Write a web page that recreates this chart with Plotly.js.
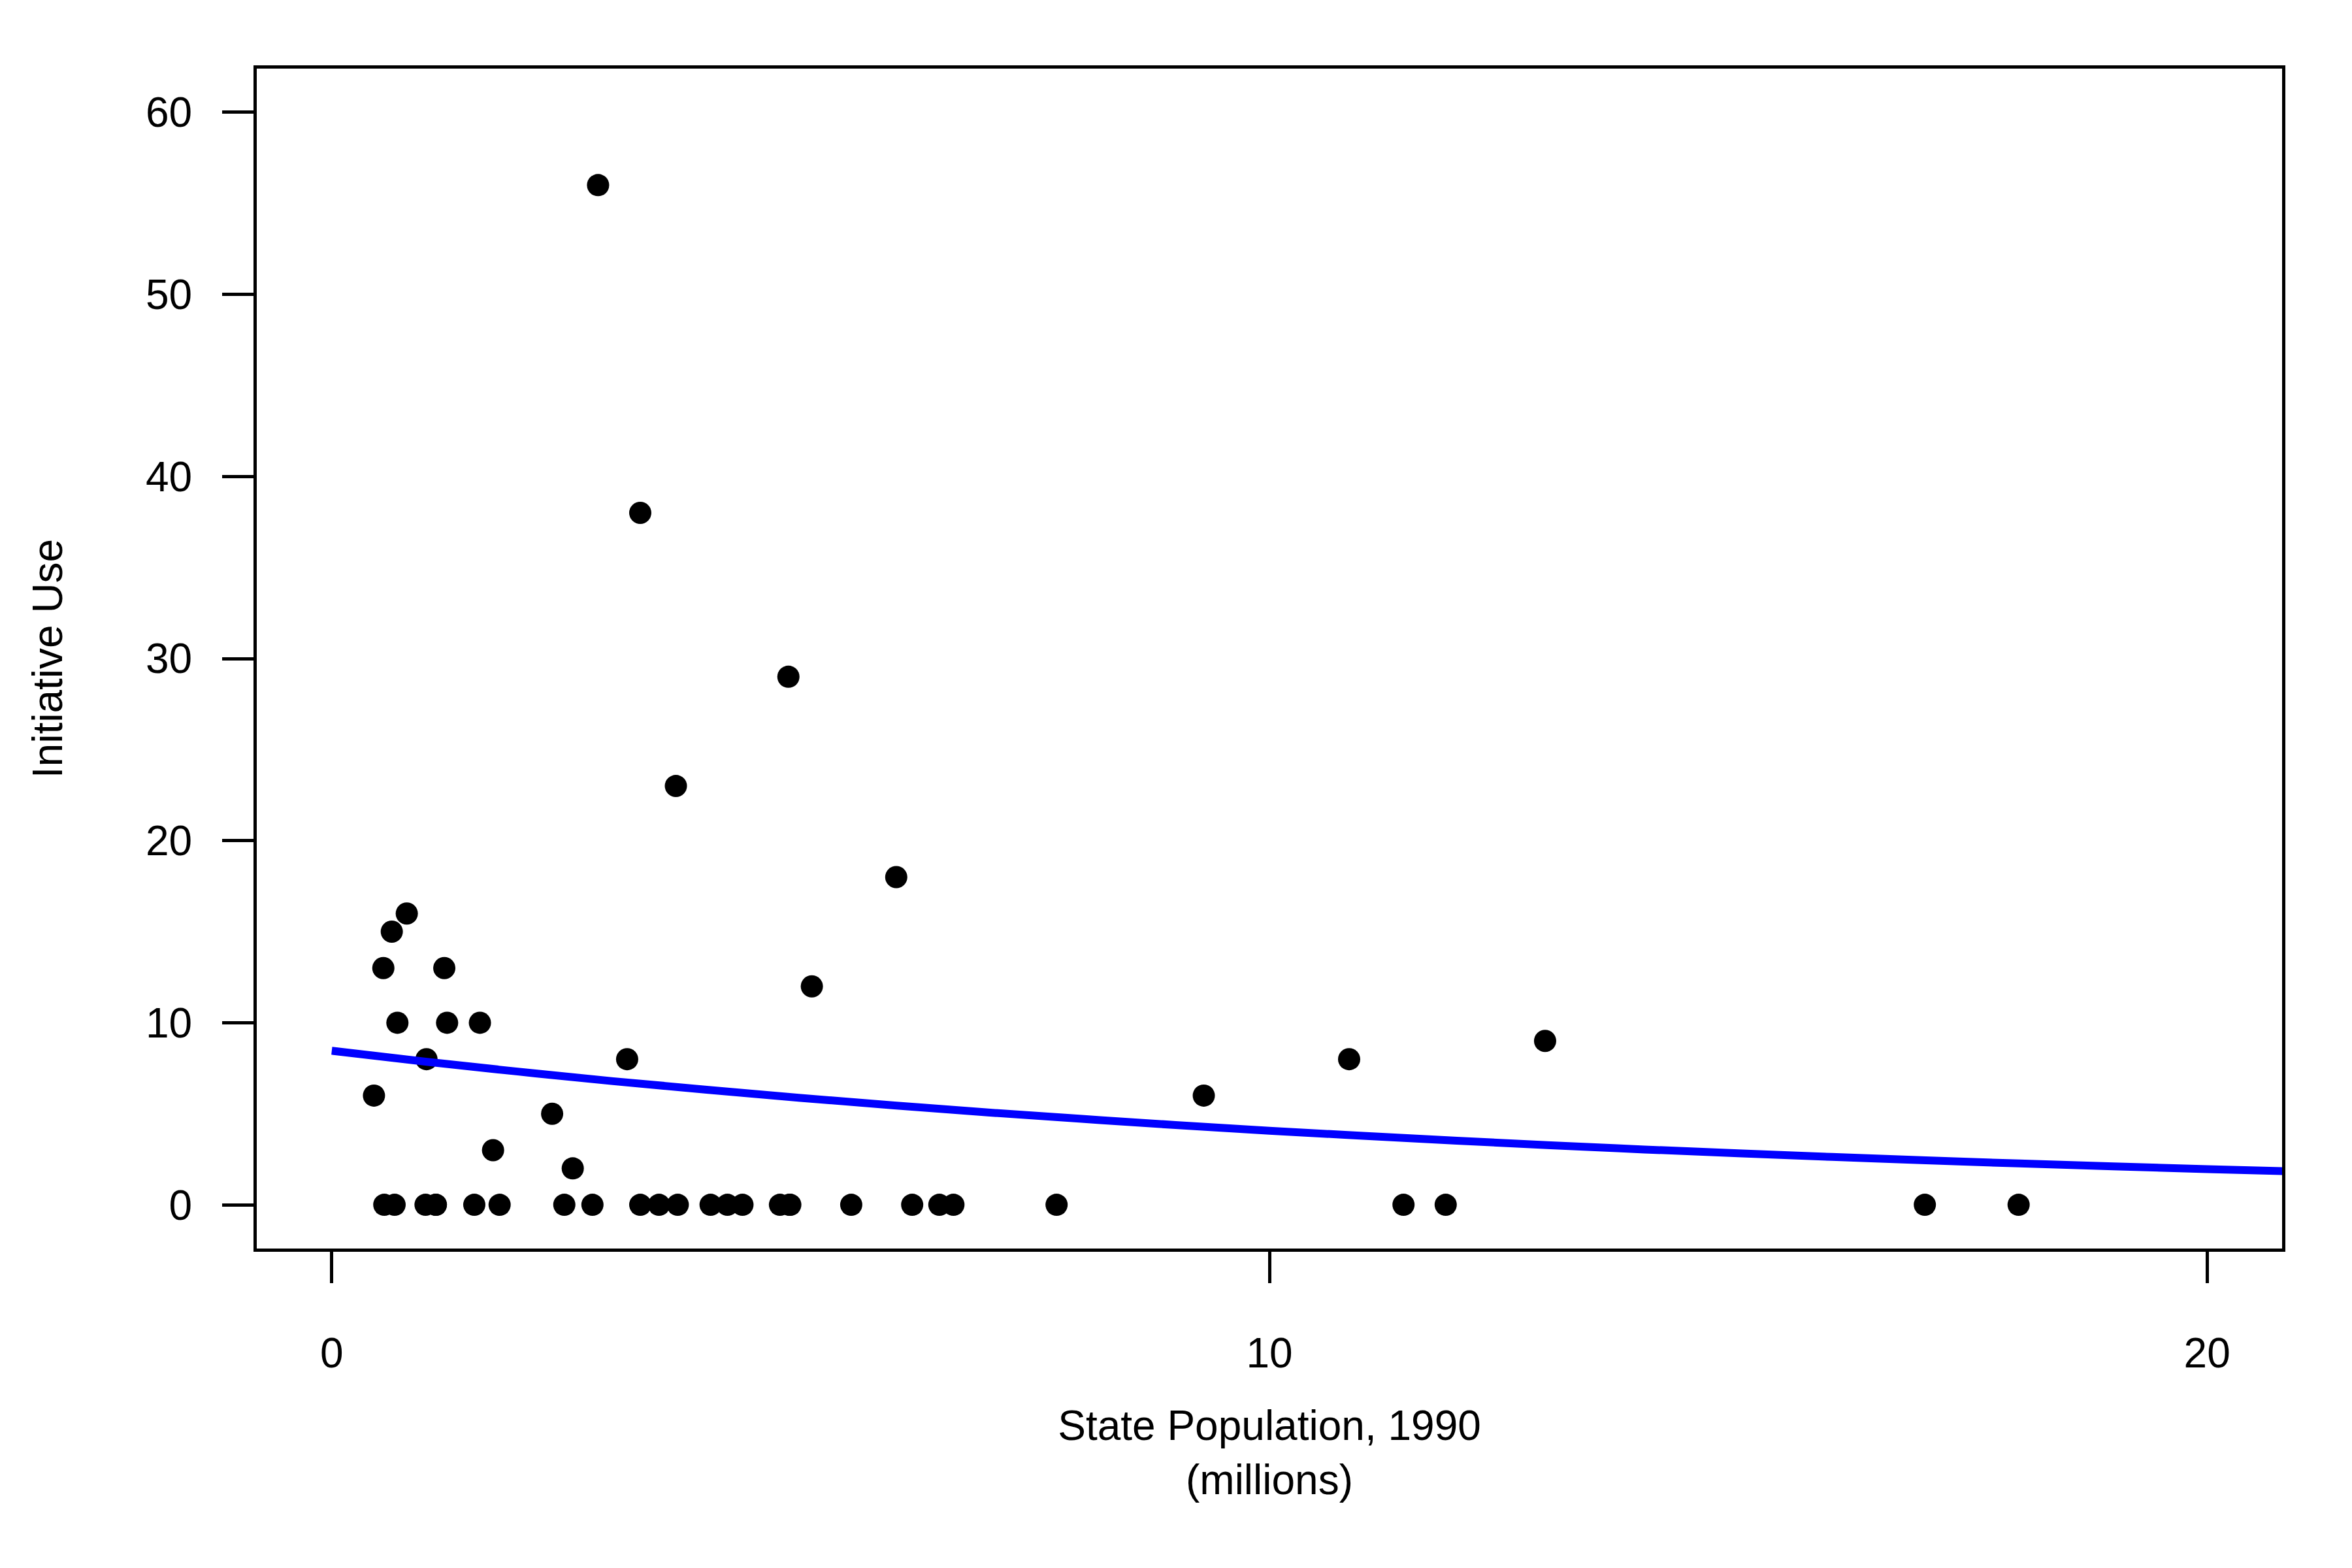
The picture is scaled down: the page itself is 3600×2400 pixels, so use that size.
<!DOCTYPE html>
<html>
<head>
<meta charset="utf-8">
<script src="https://cdn.plot.ly/plotly-3.0.1.min.js"></script>
<style>
  html, body { margin: 0; padding: 0; background: #ffffff; }
  #chart { width: 3600px; height: 2400px; }
</style>
</head>
<body>
<div id="chart"></div>
<script>
// State population, 1990 (millions) and initiative use
const statePopulation = [
  0.45, 0.55, 0.56, 0.64, 0.67, 0.70, 0.80, 1.00, 1.01, 1.11, 1.11, 1.20, 1.23,
  1.52, 1.58, 1.72, 1.79, 2.35, 2.48, 2.57, 2.78, 2.84, 3.15, 3.29, 3.29, 3.49,
  3.67, 3.69, 4.04, 4.22, 4.38, 4.78, 4.87, 4.88, 4.89, 5.12, 5.54, 6.02, 6.19,
  6.48, 6.63, 7.73, 9.30, 10.85, 11.43, 11.88, 12.94, 16.99, 17.99
];
const initiativeUse = [
  6, 13, 0, 15, 0, 10, 16, 0, 8, 0, 0, 13, 10,
  0, 10, 3, 0, 5, 0, 2, 0, 56, 8, 0, 38, 0,
  23, 0, 0, 0, 0, 0, 29, 0, 0, 12, 0, 18, 0,
  0, 0, 0, 6, 8, 0, 0, 9, 0, 0
];

// Fitted curve (blue)
const curveX = [0, 1, 2, 3, 4, 5, 6, 7, 8, 9, 10, 11, 12, 13, 14, 15, 16, 17, 18, 19, 20, 21];
const curveY = [8.46, 7.86, 7.31, 6.79, 6.32, 5.87, 5.46, 5.07, 4.72, 4.38, 4.07,
                3.79, 3.52, 3.27, 3.04, 2.83, 2.63, 2.44, 2.27, 2.11, 1.96, 1.82];

const xTicks = [0, 10, 20];
const yTicks = [0, 10, 20, 30, 40, 50, 60];

const FONT = '"Liberation Sans", Arial, Helvetica, sans-serif';

const traces = [
  {
    type: 'scatter',
    mode: 'markers',
    x: statePopulation,
    y: initiativeUse,
    marker: { color: '#000000', size: 34, symbol: 'circle', line: { width: 0 } },
    cliponaxis: true,
    showlegend: false,
    hoverinfo: 'x+y'
  },
  {
    type: 'scatter',
    mode: 'lines',
    x: curveX,
    y: curveY,
    line: { color: '#0000FF', width: 12, shape: 'spline' },
    showlegend: false,
    hoverinfo: 'skip'
  }
];

const layout = {
  width: 3600,
  height: 2400,
  paper_bgcolor: '#ffffff',
  plot_bgcolor: '#ffffff',
  margin: { l: 393, r: 107, t: 105, b: 489, pad: 0 },
  font: { family: FONT, size: 64, color: '#000000' },
  showlegend: false,
  xaxis: {
    range: [-0.8, 20.8],
    tickmode: 'array',
    tickvals: xTicks,
    ticktext: xTicks.map(String),
    ticks: 'outside',
    ticklen: 48,
    tickwidth: 5,
    tickcolor: '#000000',
    ticklabelstandoff: 52,
    showline: true,
    linewidth: 5,
    linecolor: '#000000',
    mirror: true,
    showgrid: false,
    zeroline: false,
    automargin: false,
    tickfont: { family: FONT, size: 64, color: '#000000' },
    title: {
      text: 'State Population, 1990<br>(millions)',
      font: { family: FONT, size: 64, color: '#000000' },
      standoff: 55
    }
  },
  yaxis: {
    range: [-2.4, 62.4],
    tickmode: 'array',
    tickvals: yTicks,
    ticktext: yTicks.map(String),
    ticks: 'outside',
    ticklen: 48,
    tickwidth: 5,
    tickcolor: '#000000',
    ticklabelstandoff: 33,
    showline: true,
    linewidth: 5,
    linecolor: '#000000',
    mirror: true,
    showgrid: false,
    zeroline: false,
    automargin: false,
    tickfont: { family: FONT, size: 64, color: '#000000' },
    title: {
      text: 'Initiative Use',
      font: { family: FONT, size: 64, color: '#000000' },
      standoff: 108
    }
  }
};

Plotly.newPlot('chart', traces, layout, { staticPlot: true, displayModeBar: false });
</script>
</body>
</html>
